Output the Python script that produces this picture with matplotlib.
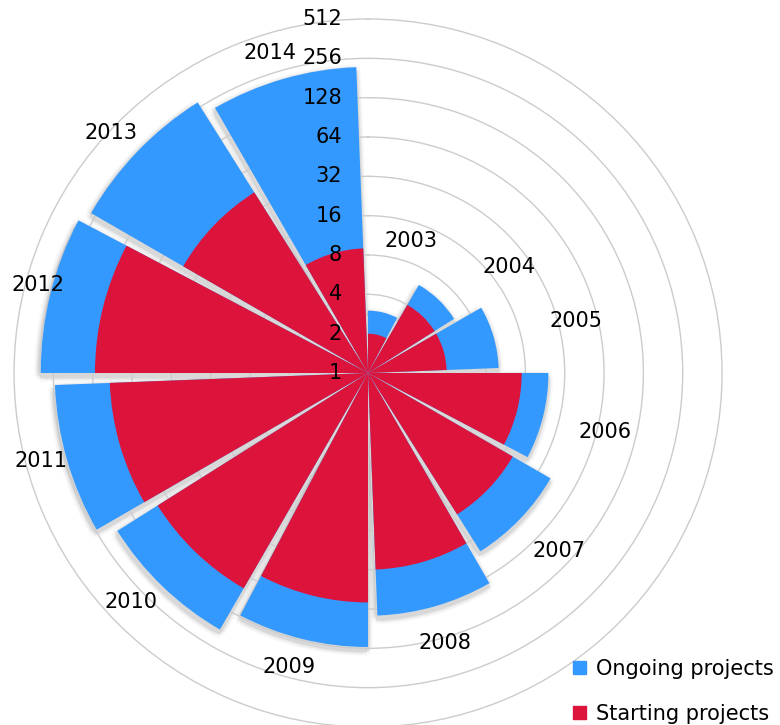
import numpy as np
import matplotlib
matplotlib.use("Agg")
import matplotlib.pyplot as plt
from matplotlib.transforms import offset_copy
from matplotlib.patches import Patch

years = ["2003", "2004", "2005", "2006", "2007", "2008",
         "2009", "2010", "2011", "2012", "2013", "2014"]
ongoing = [3, 6, 10, 24, 41, 72, 125, 185, 250, 320, 280, 220]
starting = [2, 4, 4, 15, 19, 32, 57, 80, 95, 123, 43, 9]
r_ticks = [1, 2, 4, 8, 16, 32, 64, 128, 256, 512]

# where the year labels sit (angle in degrees, radius in axis units)
label_angle = [18, 53, 76, 104, 133, 164, 195, 226, 255, 285, 313, 343]
label_r = [11.5, 22.3, 43.7, 74.6, 100, 140, 214, 333, 393, 413, 491, 364]

BLUE = "#3399ff"
RED = "#dc143c"
GRID = "#cccccc"

fig = plt.figure(figsize=(7.8, 7.25), dpi=100)
ax = fig.add_axes([0.018, -0.0028, 0.9077, 0.9766], projection="polar")
ax.set_theta_zero_location("N")
ax.set_theta_direction(-1)
ax.set_rscale("log", base=2)
ax.set_rlim(1, 512)
ax.set_axisbelow(True)

n = len(years)
sector = 2 * np.pi / n
start = np.arange(n) * sector
bar_w = np.deg2rad(27.8)
ong = np.array(ongoing, dtype=float)
sta = np.array(starting, dtype=float)


def shadow(dx, dy, color, alpha):
    sh = ax.bar(start, ong - 1, width=bar_w, bottom=1, align="edge",
                color=color, alpha=alpha, linewidth=0, zorder=0.3)
    tr = offset_copy(ax.transData, fig=fig, x=dx, y=dy, units="dots")
    for p in sh:
        p.set_transform(tr)


# soft blurred shadow, then a solid light one shifted down on top of it
for rad in [2, 4, 6]:
    for k in range(8):
        ang = k * np.pi / 4
        shadow(-1 + rad * np.cos(ang), -3 + rad * np.sin(ang), "black", 0.018)
shadow(-1, -5, "#d8d8d8", 1.0)
shadow(1, -4, "#d8d8d8", 1.0)

ax.bar(start, ong - 1, width=bar_w, bottom=1, align="edge",
       color=BLUE, linewidth=0, zorder=2, label="Ongoing projects")
ax.bar(start, sta - 1, width=bar_w, bottom=1, align="edge",
       color=RED, linewidth=0, zorder=3, label="Starting projects")

ax.set_xticks(np.arange(n) * sector)
ax.set_xticklabels([])
ax.xaxis.grid(False)
ax.set_yticks(r_ticks[1:-1])
ax.set_yticklabels([])
ax.yaxis.grid(True, color=GRID, linewidth=1)
ax.spines["polar"].set_color(GRID)
ax.spines["polar"].set_linewidth(1)
ax.tick_params(length=0)

tr_lab = offset_copy(ax.transData, fig=fig, x=-26, y=0, units="dots")
for v in r_ticks:
    ax.text(0, v, str(v), transform=tr_lab, ha="right", va="center",
            fontsize=15, zorder=5)

for yr, a, r in zip(years, label_angle, label_r):
    ax.text(np.deg2rad(a), r, yr, ha="center", va="center", fontsize=15,
            zorder=5)

fig.legend(handles=[Patch(color=BLUE), Patch(color=RED)],
           labels=["Ongoing projects", "Starting projects"],
           loc="upper left", bbox_to_anchor=(573 / 780, 1 - 659 / 725),
           frameon=False, fontsize=15, handlelength=0.6, handleheight=0.6,
           handletextpad=0.5, labelspacing=1.2, borderpad=0,
           borderaxespad=0)

fig.savefig("out.png", dpi=100)
